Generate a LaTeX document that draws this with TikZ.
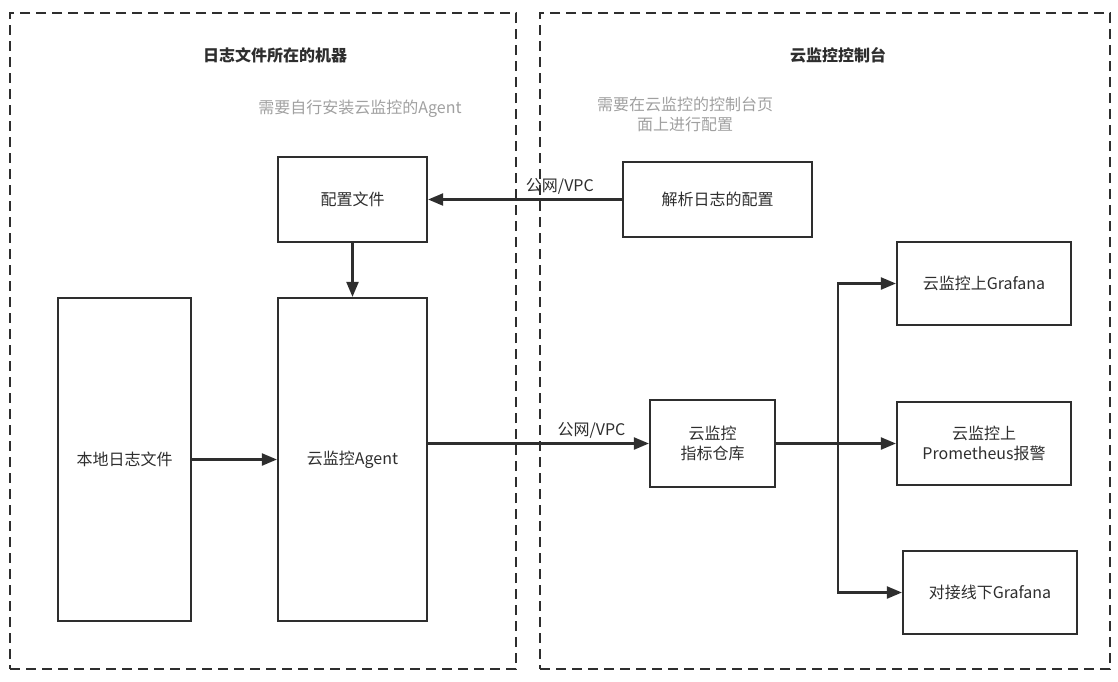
\documentclass[tikz,border=0pt]{standalone}
\usepackage{fontspec}
\setmainfont{Noto Sans CJK SC}
\usetikzlibrary{arrows.meta,positioning}
\definecolor{ink}{HTML}{2E2E2E}
\definecolor{hint}{HTML}{A0A0A0}

\begin{document}
\begin{tikzpicture}[x=1pt,y=-1pt,>={Triangle[length=15pt,width=12pt]},
    every node/.style={font=\fontsize{16}{20}\selectfont,text=ink},
    region/.style={draw=ink,line width=2.2pt,dash pattern=on 10pt off 6pt,inner sep=0pt},
    title/.style={font=\fontsize{16}{20}\selectfont\bfseries},
    hinttext/.style={text=hint,align=center},
    block/.style={draw=ink,line width=2.2pt,align=center,inner sep=0pt},
    link/.style={->,draw=ink,line width=2.2pt}]
  \useasboundingbox (0,0) rectangle (1118,681);

  % the two areas
  \node[region,minimum width=506pt,minimum height=656pt] (host) at (263,341) {};
  \node[region,minimum width=570pt,minimum height=656pt] (cloud) at (825,341) {};
  \node[title] (hosttitle) at (275,55) {日志文件所在的机器};
  \node[title] (cloudtitle) at (838,55) {云监控控制台};
  \node[hinttext] (hostnote) at (360,109) {需要自行安装云监控的Agent};
  \node[hinttext] (cloudnote) at (685,114) {需要在云监控的控制台页\\面上进行配置};

  % boxes
  \node[block,minimum width=149pt,minimum height=85pt] (conf) at (352.5,199.5) {配置文件};
  \node[block,minimum width=189pt,minimum height=75pt] (parse) at (717.5,199.5) {解析日志的配置};
  \node[block,minimum width=133pt,minimum height=323pt] (logfile) at (124.5,459.5) {本地日志文件};
  \node[block,minimum width=149pt,minimum height=323pt] (agent) at (352.5,459.5) {云监控Agent};
  \node[block,minimum width=125pt,minimum height=87pt] (store) at (712.5,443.5) {云监控\\指标仓库};
  \node[block,minimum width=174pt,minimum height=83pt] (grafana) at (984,283.5) {云监控上Grafana};
  \node[block,minimum width=174pt,minimum height=83pt] (alert) at (984,443.5) {云监控上\\Prometheus报警};
  \node[block,minimum width=174pt,minimum height=83pt] (offline) at (990,592.5) {对接线下Grafana};
  \coordinate (split) at (838,443.5);

  % connectors
  \draw[link] (parse) -- node[above=1pt,pos=0.32] {公网/VPC} (conf);
  \draw[link] (conf) -- (agent);
  \draw[link] (logfile) -- (agent);
  \draw[link] (agent.east |- store) -- node[above=1pt,pos=0.74] {公网/VPC} (store);
  \draw[line width=2.2pt,draw=ink] (store) -- (split);
  \draw[link] (split) |- (grafana);
  \draw[link] (split) -- (alert);
  \draw[link] (split) |- (offline);
\end{tikzpicture}
\end{document}
